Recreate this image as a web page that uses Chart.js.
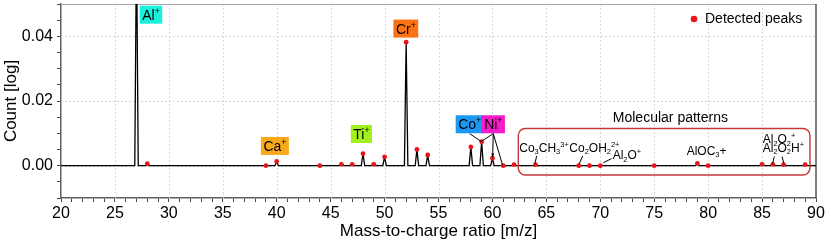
<!DOCTYPE html>
<html>
<head>
<meta charset="utf-8">
<script src="https://cdn.jsdelivr.net/npm/chart.js@4.4.1/dist/chart.umd.min.js"></script>
<style>
  body { margin: 0; background: #fff; }
  canvas { display: block; }
</style>
</head>
<body>
<canvas id="spectrum" width="831" height="242"></canvas>
<script>
// peaks of the mass spectrum: m/z and count (Al+ goes off the top)
var peakMz    = [27, 28, 39, 40, 44, 46, 47, 48, 49, 50, 52, 53, 54, 58, 59, 60, 61, 62, 64, 68, 69, 70, 75, 79, 80, 85, 86, 87, 89];
var peakCount = [0.07, 0.0006, 0, 0.0013, 0, 0.0004, 0.0004, 0.0037, 0.0004, 0.0027, 0.0382, 0.0050, 0.0033,
                 0.0058, 0.0074, 0.0023, 0, 0.0003, 0.0003, 0, 0, 0, 0, 0.0007, 0, 0.0004, 0.0004, 0.0003, 0.0003];
// peaks flagged by the detector (red dots)
var detectedMz = [28, 39, 40, 44, 46, 47, 48, 49, 50, 52, 53, 54, 58, 59, 60, 61, 62, 64, 68, 69, 70, 75, 79, 80, 85, 86, 87, 89];

var xTickLabels = [20, 25, 30, 35, 40, 45, 50, 55, 60, 65, 70, 75, 80, 85, 90];
var yTickLabels = [0, 0.02, 0.04];
var xRange = [20, 90];
var yRange = [-0.01, 0.05];

var FONT = "'Liberation Sans', Arial, sans-serif";

// annotations, anchored in data units
var ionLabels = [
  {text: 'Al^+', mz: 28.34, y: 0.0467, color: '#1cf0dc'},
  {text: 'Ca^+', mz: 39.83, y: 0.0061, color: '#f9aa1c'},
  {text: 'Ti^+', mz: 47.85, y: 0.0098, color: '#a2f01e'},
  {text: 'Cr^+', mz: 51.97, y: 0.0424, color: '#fb7216'},
  {text: 'Co^+', mz: 57.89, y: 0.0128, color: '#1a98f4'},
  {text: 'Ni^+', mz: 60.08, y: 0.0128, color: '#f41ec8'}
];
var leaders = [
  [57.89, 0.0099, 58.95, 0.0075, false],
  [60.08, 0.0099, 58.97, 0.0075, false],
  [60.08, 0.0099, 60.02, 0.0026, true],
  [60.08, 0.0099, 60.93, 0.0003, false],
  [64.10, 0.0030, 63.93, 0.0005, false],
  [68.37, 0.0030, 68.03, 0.0005, false],
  [71.05, 0.0022, 70.28, 0.0009, false],
  [86.13, 0.0028, 85.98, 0.0007, false],
  [86.85, 0.0028, 87.03, 0.0007, false]
];
var formulaLabels = [
  {text: 'Co_3CH_3^{3+}', mz: 62.49, y: 0.0043},
  {text: 'Co_2OH_2^{2+}', mz: 67.13, y: 0.0043},
  {text: 'Al_2O^+', mz: 71.15, y: 0.0020},
  {text: 'AlOC_3+', mz: 78.01, y: 0.0033},
  {text: 'Al_2O_2^+', mz: 85.06, y: 0.0069},
  {text: 'Al_2O_2H^+', mz: 85.06, y: 0.0042}
];
var patternBox = {x0: 62.4, x1: 89.44, y0: 0.0115, y1: -0.0029, title: 'Molecular patterns', titleMz: 76.5, titleY: 0.0147};

// spectrum line: every peak sits on a narrow base on the zero line
var spectrum = [{x: xRange[0], y: 0}];
peakMz.forEach(function (m, i) {
  spectrum.push({x: m - 0.16, y: 0}, {x: m, y: peakCount[i]}, {x: m + 0.16, y: 0});
});
spectrum.push({x: xRange[1], y: 0});

var dots = detectedMz.map(function (m) {
  return {x: m, y: peakCount[peakMz.indexOf(m)]};
});

function parseRich(s) {
  var parts = [], i = 0;
  while (i < s.length) {
    var c = s[i];
    if (c === '_' || c === '^') {
      var mode = c === '_' ? 'sub' : 'sup', t;
      if (s[i + 1] === '{') { var j = s.indexOf('}', i); t = s.slice(i + 2, j); i = j + 1; }
      else { t = s[i + 1]; i += 2; }
      parts.push([t, mode]);
    } else {
      var last = parts[parts.length - 1];
      if (last && last[1] === 'n') last[0] += c; else parts.push([c, 'n']);
      i++;
    }
  }
  return parts;
}

function richWidth(ctx, parts, size) {
  var w = 0;
  parts.forEach(function (p) {
    ctx.font = (p[1] === 'n' ? size : size * 0.62) + 'px ' + FONT;
    w += ctx.measureText(p[0]).width;
  });
  return w;
}

function drawRich(ctx, text, x, y, size) {
  var parts = parseRich(text);
  ctx.textBaseline = 'alphabetic';
  ctx.textAlign = 'left';
  parts.forEach(function (p) {
    var s = p[1] === 'n' ? size : size * 0.62;
    var dy = p[1] === 'sup' ? -size * 0.42 : (p[1] === 'sub' ? size * 0.2 : 0);
    ctx.font = s + 'px ' + FONT;
    ctx.fillText(p[0], x, y + dy);
    x += ctx.measureText(p[0]).width;
  });
}

var gridPlugin = {
  id: 'gridPlugin',
  beforeDatasetsDraw: function (chart) {
    var ctx = chart.ctx, a = chart.chartArea;
    var xs = chart.scales.x, ys = chart.scales.y;
    ctx.save();
    ctx.strokeStyle = '#d6d6d6';
    ctx.lineWidth = 1;
    ctx.setLineDash([2, 2]);
    xTickLabels.forEach(function (v) {
      if (v <= xRange[0] || v >= xRange[1]) return;
      var px = Math.round(xs.getPixelForValue(v)) + 0.5;
      ctx.beginPath(); ctx.moveTo(px, a.top); ctx.lineTo(px, a.bottom); ctx.stroke();
    });
    yTickLabels.forEach(function (v) {
      var py = Math.round(ys.getPixelForValue(v)) + 0.5;
      ctx.beginPath(); ctx.moveTo(a.left, py); ctx.lineTo(a.right, py); ctx.stroke();
    });
    ctx.setLineDash([]);
    ctx.strokeStyle = '#a8a8a8';
    ctx.beginPath(); ctx.moveTo(a.left, a.top + 0.5); ctx.lineTo(a.right, a.top + 0.5); ctx.stroke();
    ctx.strokeStyle = '#555';
    ctx.lineWidth = 1.5;
    ctx.beginPath(); ctx.moveTo(a.right, a.top); ctx.lineTo(a.right, a.bottom); ctx.stroke();
    ctx.restore();
  }
};

var notePlugin = {
  id: 'notePlugin',
  afterDatasetsDraw: function (chart) {
    var ctx = chart.ctx, a = chart.chartArea;
    var xs = chart.scales.x, ys = chart.scales.y;
    function X(v) { return xs.getPixelForValue(v); }
    function Y(v) { return ys.getPixelForValue(v); }
    ctx.save();

    // rounded frame around the molecular peaks
    var bx = X(patternBox.x0), by = Y(patternBox.y0);
    var bw = X(patternBox.x1) - bx, bh = Y(patternBox.y1) - by;
    ctx.strokeStyle = '#c4383a';
    ctx.lineWidth = 1.4;
    ctx.beginPath();
    ctx.roundRect(bx, by, bw, bh, 7);
    ctx.stroke();
    ctx.fillStyle = '#000';
    ctx.font = '14px ' + FONT;
    ctx.textAlign = 'center';
    ctx.textBaseline = 'middle';
    ctx.fillText(patternBox.title, X(patternBox.titleMz), Y(patternBox.titleY));

    // leader lines
    ctx.strokeStyle = '#000';
    ctx.lineWidth = 1;
    leaders.forEach(function (l) {
      var x0 = X(l[0]), y0 = Y(l[1]), x1 = X(l[2]), y1 = Y(l[3]);
      ctx.beginPath(); ctx.moveTo(x0, y0); ctx.lineTo(x1, y1); ctx.stroke();
      if (l[4]) {
        var ang = Math.atan2(y1 - y0, x1 - x0);
        ctx.beginPath();
        ctx.moveTo(x1, y1);
        ctx.lineTo(x1 - 4 * Math.cos(ang - 0.4), y1 - 4 * Math.sin(ang - 0.4));
        ctx.lineTo(x1 - 4 * Math.cos(ang + 0.4), y1 - 4 * Math.sin(ang + 0.4));
        ctx.closePath();
        ctx.fillStyle = '#000';
        ctx.fill();
      }
    });

    // coloured element boxes
    ionLabels.forEach(function (lab) {
      var size = 14;
      var w = richWidth(ctx, parseRich(lab.text), size) + 5;
      var cx = X(lab.mz), cy = Y(lab.y);
      ctx.fillStyle = lab.color;
      ctx.fillRect(cx - w / 2, cy - 9, w, 18);
      ctx.fillStyle = '#000';
      drawRich(ctx, lab.text, cx - w / 2 + 2.5, cy + 5, size);
    });

    formulaLabels.forEach(function (lab) {
      ctx.fillStyle = '#000';
      drawRich(ctx, lab.text, X(lab.mz), Y(lab.y), 12);
    });

    // legend
    var lx = a.right - 122, ly = a.top + 15;
    ctx.fillStyle = '#e8141c';
    ctx.beginPath(); ctx.arc(lx, ly, 3.3, 0, Math.PI * 2); ctx.fill();
    ctx.fillStyle = '#000';
    ctx.font = '14px ' + FONT;
    ctx.textAlign = 'left';
    ctx.textBaseline = 'middle';
    ctx.fillText('Detected peaks', lx + 11, ly);
    ctx.restore();
  }
};

function near(list, v) {
  for (var i = 0; i < list.length; i++) if (Math.abs(list[i] - v) < 1e-6) return true;
  return false;
}

Chart.defaults.font.family = FONT;
Chart.defaults.color = '#000';

var ctx = document.getElementById('spectrum');
var chart = new Chart(ctx, {
  type: 'line',
  data: {
    datasets: [{
      label: 'Spectrum',
      data: spectrum,
      borderColor: '#000',
      borderWidth: 1.3,
      borderJoinStyle: 'round',
      pointRadius: 0,
      tension: 0,
      order: 2
    }, {
      label: 'Detected peaks',
      data: dots,
      showLine: false,
      pointRadius: 2.4,
      pointBackgroundColor: '#e8141c',
      pointBorderWidth: 0,
      order: 1
    }]
  },
  options: {
    responsive: false,
    animation: false,
    layout: {autoPadding: false, padding: {top: 4, right: 15, left: 0, bottom: 0}},
    plugins: {legend: {display: false}, tooltip: {enabled: false}},
    scales: {
      x: {
        type: 'linear',
        min: xRange[0],
        max: xRange[1],
        afterFit: function (s) { s.height = 44; s.paddingLeft = 0; s.paddingRight = 0; },
        ticks: {
          stepSize: 1,
          autoSkip: false,
          maxRotation: 0,
          padding: 2,
          font: {size: 16},
          callback: function (v) { return near(xTickLabels, v) ? String(v) : ''; }
        },
        grid: {drawOnChartArea: false, tickLength: 4, tickColor: '#444'},
        border: {color: '#606060', width: 1.5},
        title: {display: true, text: 'Mass-to-charge ratio [m/z]', font: {size: 17}, padding: {top: 0, bottom: 0}}
      },
      y: {
        min: yRange[0],
        max: yRange[1],
        afterFit: function (s) { s.width = 61; s.paddingTop = 0; s.paddingBottom = 0; },
        ticks: {
          stepSize: 0.005,
          autoSkip: false,
          padding: 4,
          font: {size: 16},
          callback: function (v) { return near(yTickLabels, v) ? v.toFixed(2) : ''; }
        },
        grid: {drawOnChartArea: false, tickLength: 4, tickColor: '#444'},
        border: {color: '#606060', width: 1.5},
        title: {display: true, text: 'Count [log]', font: {size: 17}, padding: {top: 1, bottom: 0}}
      }
    }
  },
  plugins: [gridPlugin, notePlugin]
});
</script>
</body>
</html>
